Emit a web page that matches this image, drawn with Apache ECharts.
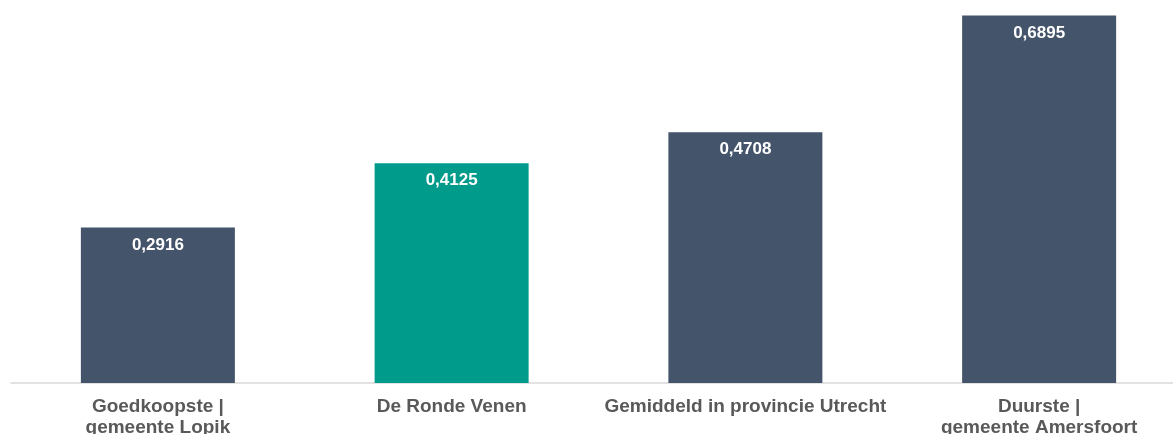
<!DOCTYPE html>
<html>
<head>
<meta charset="utf-8">
<script src="https://cdn.jsdelivr.net/npm/echarts@6/dist/echarts.min.js"></script>
<style>
  html, body { margin: 0; padding: 0; background: #fff; }
  #chart { width: 1173px; height: 434px; }
</style>
</head>
<body>
<div id="chart"></div>
<script>
const categories = [
  'Goedkoopste |\ngemeente Lopik',
  'De Ronde Venen',
  'Gemiddeld in provincie Utrecht',
  'Duurste |\ngemeente Amersfoort',
]
const values = [0.2916, 0.4125, 0.4708, 0.6895]
const highlightIndex = 1

const BAR = '#44546A'
const HIGHLIGHT = '#009B8A'
const TEXT = '#595959'

const chart = echarts.init(document.getElementById('chart'))

chart.setOption({
  animation: false,
  grid: {
    top: 10,
    left: 11,
    right: -13,
    bottom: 51,
    containLabel: false,
    outerBoundsMode: 'none',
  },
  xAxis: {
    type: 'category',
    data: categories,
    axisLine: { show: true, lineStyle: { color: '#D9D9D9', width: 1.5 } },
    axisTick: { show: false },
    axisLabel: {
      color: TEXT,
      fontFamily: 'Liberation Sans, Arial, sans-serif',
      fontWeight: 'bold',
      fontSize: 19,
      lineHeight: 21,
      margin: 13,
      interval: 0,
    },
  },
  yAxis: {
    type: 'value',
    min: 0,
    max: 0.7,
    show: false,
    splitLine: { show: false },
  },
  series: [
    {
      type: 'bar',
      barWidth: 154,
      data: values.map((v, i) => ({
        value: v,
        itemStyle: { color: i === highlightIndex ? HIGHLIGHT : BAR },
      })),
      label: {
        show: true,
        position: 'insideTop',
        distance: 9,
        color: '#fff',
        fontFamily: 'Liberation Sans, Arial, sans-serif',
        fontWeight: 'bold',
        fontSize: 17,
        formatter: (p) => String(p.value).replace('.', ','),
      },
    },
  ],
})
</script>
</body>
</html>
